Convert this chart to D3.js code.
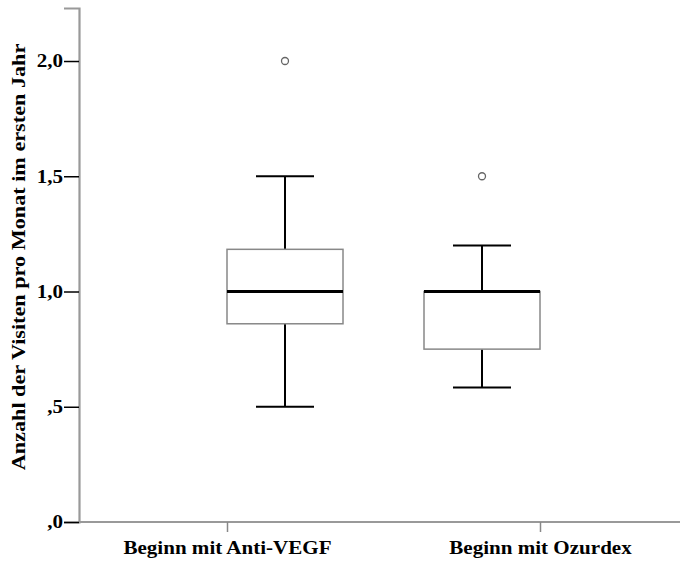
<!DOCTYPE html>
<html><head><meta charset="utf-8">
<script src="https://cdn.jsdelivr.net/npm/d3@7"></script>
<style>body{margin:0;background:#fff}svg text{font-family:"Liberation Serif","Times New Roman",serif;font-weight:bold}</style>
</head><body><svg id="c" width="680" height="562"></svg>
<script>
const categories = ["Beginn mit Anti-VEGF", "Beginn mit Ozurdex"];
const whiskerLow = [0.5, 0.583];
const q1 = [0.86, 0.75];
const median = [1.0, 1.0];
const q3 = [1.183, 1.0];
const whiskerHigh = [1.5, 1.2];
const outliers = [[2.0], [1.5]];
const yTicks = [0, 0.5, 1.0, 1.5, 2.0];
const yTickLabels = [",0", ",5", "1,0", "1,5", "2,0"];
const yTitle = "Anzahl der Visiten pro Monat im ersten Jahr";

const svg = d3.select("#c");
const y = d3.scaleLinear().domain([0, 2.23]).range([522, 8]);
const x = d3.scalePoint().domain(categories).range([227, 540]);
const boxW = 116, capW = 58;
const sx = 1.17;
const cx = (c, i) => i === 0 ? x(c) + boxW / 2 : x(c) - boxW / 2;

// y axis
const yAxis = d3.axisLeft(y).tickValues(yTicks).tickFormat((d, i) => yTickLabels[i]).tickSize(15).tickPadding(1);
const gy = svg.append("g").attr("transform", "translate(79,0)").call(yAxis);
gy.select(".domain").attr("stroke", "#999").attr("stroke-width", 2.2);
gy.selectAll(".tick line").attr("stroke", "#000").attr("stroke-width", 1.5);
gy.selectAll(".tick text").attr("font-size", 18).attr("fill", "#000")
  .attr("x", -16 / sx).attr("transform", `scale(${sx},1)`);

// x axis
const gx = svg.append("g").attr("transform", "translate(0,522)").call(d3.axisBottom(x).tickSize(10).tickPadding(9));
gx.select(".domain").attr("d", "M79,0H680").attr("stroke", "#999").attr("stroke-width", 2.2);
gx.selectAll(".tick line").attr("stroke", "#888").attr("stroke-width", 1.5);
gx.selectAll(".tick text").attr("font-size", 18).attr("fill", "#000").attr("transform", `scale(${sx},1)`);

// y title
svg.append("text").attr("transform", `translate(25,257) rotate(-90) scale(${sx},1)`).attr("text-anchor", "middle")
  .attr("font-size", 19).attr("fill", "#000").text(yTitle);

// boxes
categories.forEach((c, i) => {
  const g = svg.append("g");
  const m = cx(c, i);
  g.append("line").attr("x1", m).attr("x2", m).attr("y1", y(whiskerLow[i])).attr("y2", y(q1[i])).attr("stroke", "#000").attr("stroke-width", 2);
  g.append("line").attr("x1", m).attr("x2", m).attr("y1", y(q3[i])).attr("y2", y(whiskerHigh[i])).attr("stroke", "#000").attr("stroke-width", 2);
  [whiskerLow[i], whiskerHigh[i]].forEach(v => g.append("line").attr("x1", m - capW / 2).attr("x2", m + capW / 2).attr("y1", y(v)).attr("y2", y(v)).attr("stroke", "#000").attr("stroke-width", 2));
  g.append("rect").attr("x", m - boxW / 2).attr("width", boxW).attr("y", y(q3[i])).attr("height", y(q1[i]) - y(q3[i]))
    .attr("fill", "#fff").attr("stroke", "#888").attr("stroke-width", 1.5);
  g.append("line").attr("x1", m - boxW / 2).attr("x2", m + boxW / 2).attr("y1", y(median[i])).attr("y2", y(median[i])).attr("stroke", "#000").attr("stroke-width", 3);
  outliers[i].forEach(v => g.append("circle").attr("cx", m).attr("cy", y(v)).attr("r", 3.5).attr("fill", "#fff").attr("stroke", "#666").attr("stroke-width", 1.3));
});
</script></body></html>
